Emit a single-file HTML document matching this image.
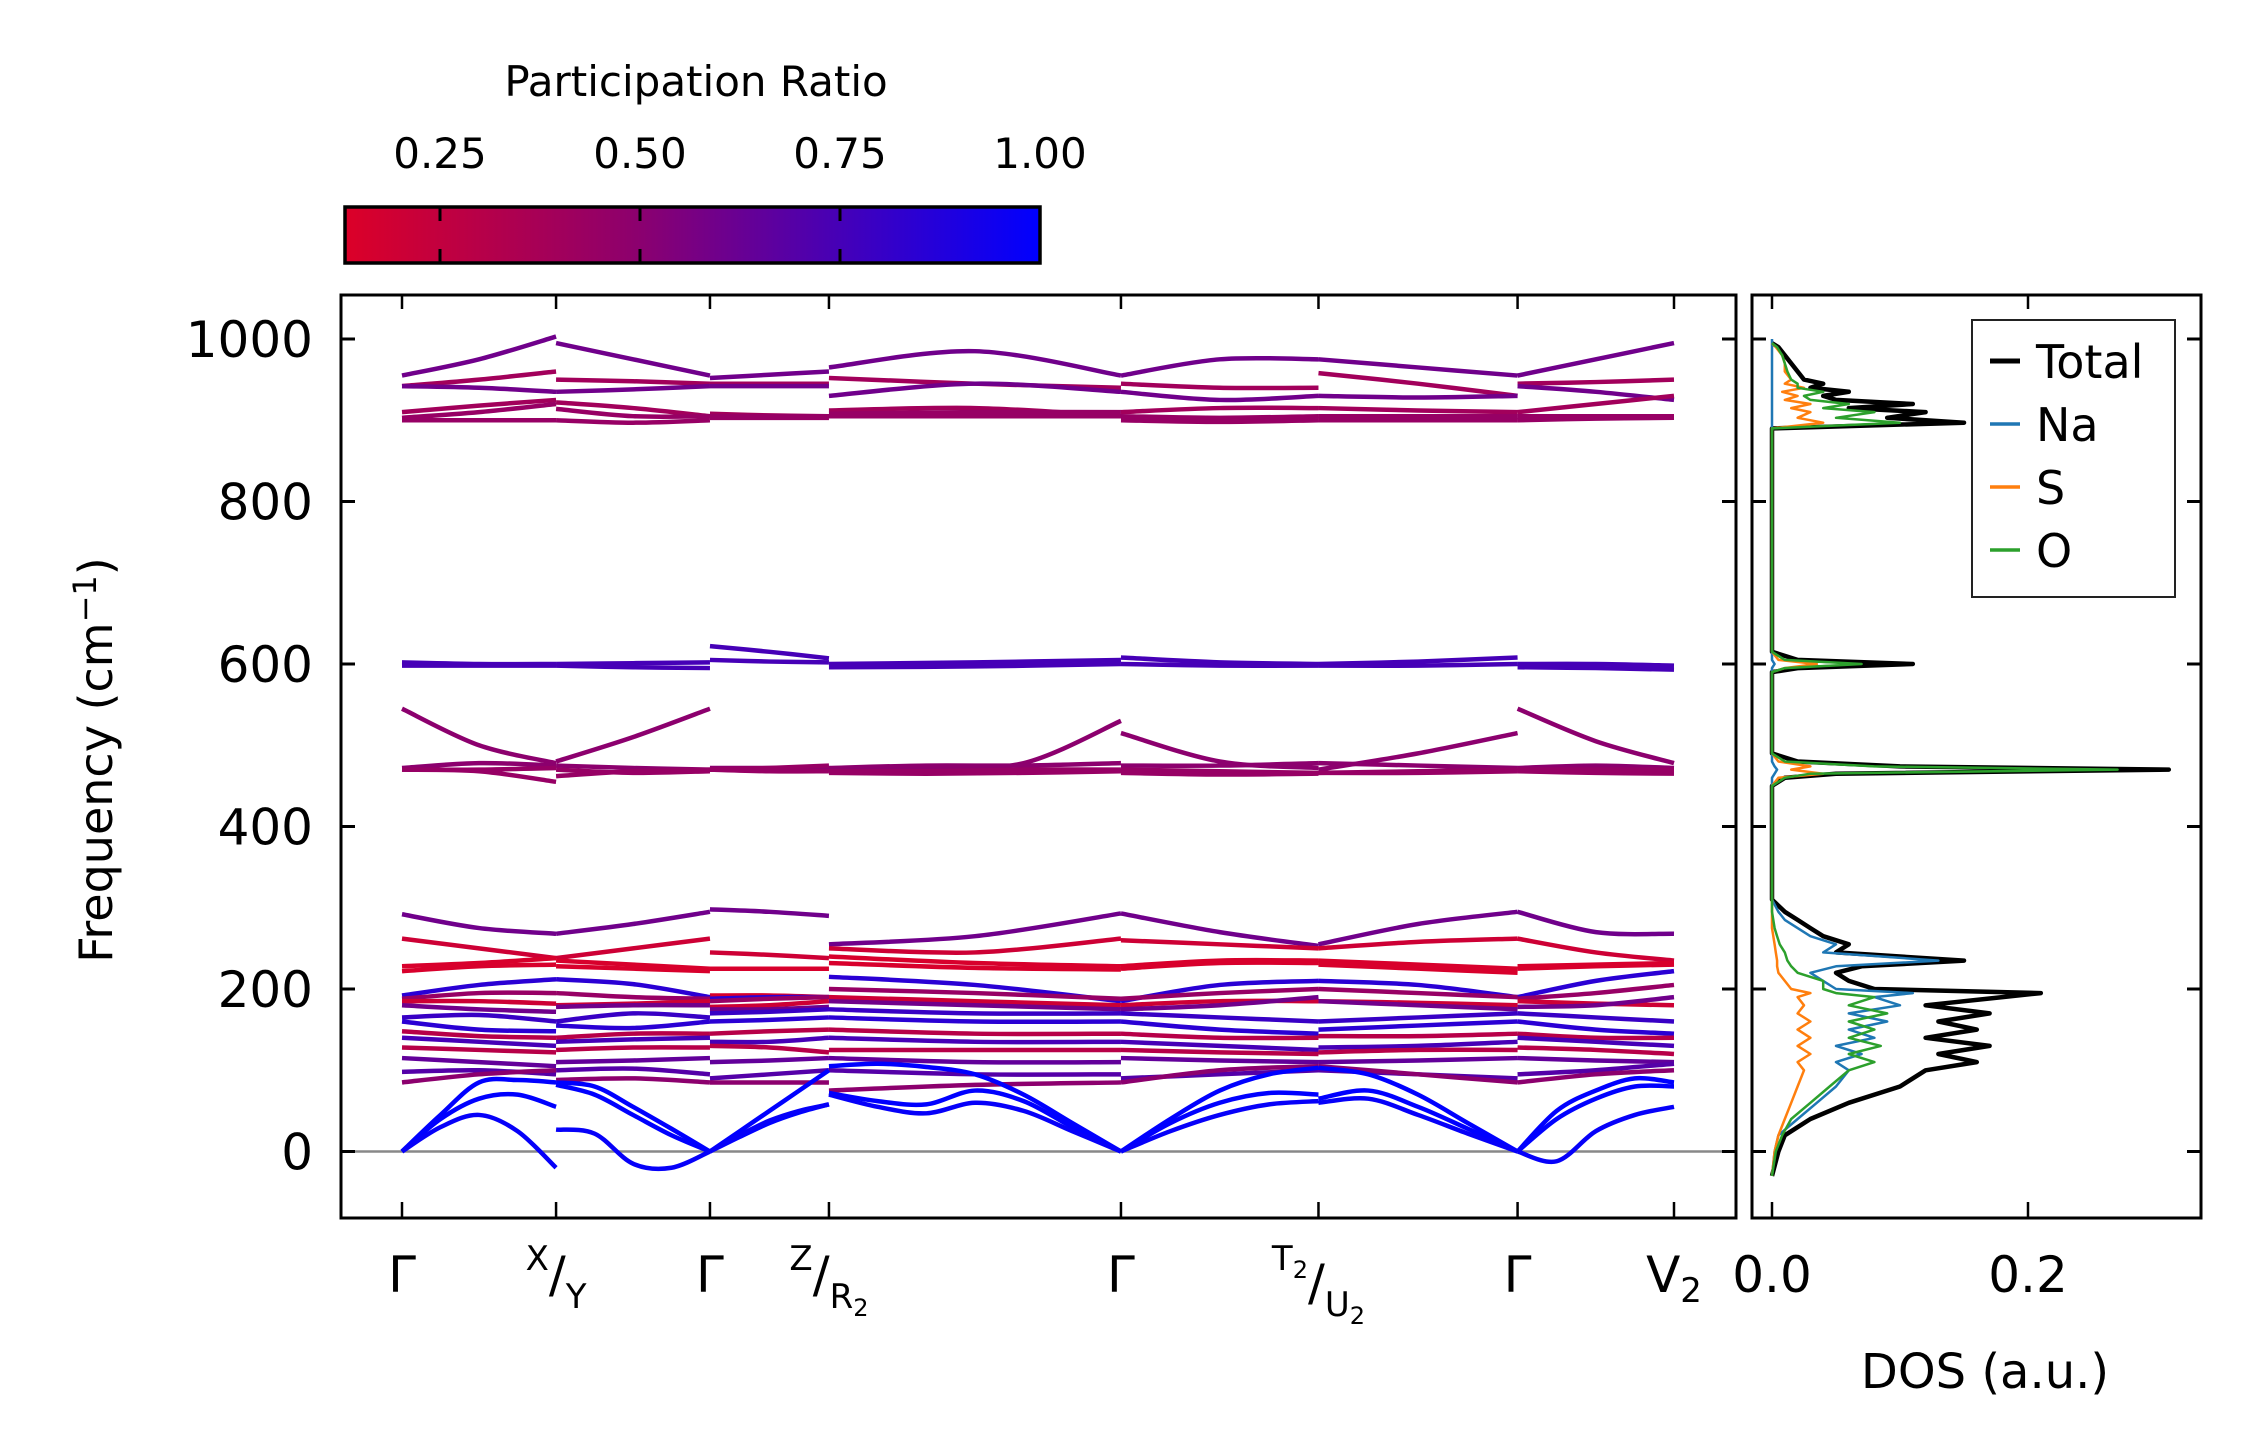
<!DOCTYPE html>
<html><head><meta charset="utf-8">
<style>
html,body{margin:0;padding:0;background:#fff;}
svg{display:block;font-family:"DejaVu Sans","Liberation Sans",sans-serif;}
</style></head>
<body>
<svg id="chart" width="2259" height="1455" viewBox="0 0 2259 1455" xmlns="http://www.w3.org/2000/svg">
  <defs>
    <linearGradient id="cmap" x1="0" x2="1" y1="0" y2="0">
      <stop offset="0" stop-color="rgb(220,0,40)"/>
      <stop offset="0.42" stop-color="rgb(140,0,110)"/>
      <stop offset="1" stop-color="rgb(0,0,255)"/>
    </linearGradient>
  </defs>
  <g id="colorbar">
    <text x="696" y="96" font-size="42" text-anchor="middle">Participation Ratio</text>
    <rect x="345" y="207" width="695" height="56" fill="url(#cmap)" stroke="#000" stroke-width="3.5"/>
  </g>
  <g id="main"></g>
  <g id="dos"></g>
  <text transform="translate(112,760) rotate(-90)" font-size="46" text-anchor="middle">Frequency (cm<tspan dy="-16" font-size="32">−1</tspan><tspan dy="16">)</tspan></text>
  <text x="1985" y="1388" font-size="48" text-anchor="middle">DOS (a.u.)</text>
</svg>
<script>
// ---------- data ----------
const qDist = [0, 0.975, 1.949, 2.702, 4.55, 5.80, 7.06, 8.05];
const qLabels = ["Γ","X|Y","Γ","Z|R2","Γ","T2|U2","Γ","V2"];
const yTicks = [0, 200, 400, 600, 800, 1000];
const cbTicks = [0.25, 0.5, 0.75, 1.0];
const cbTickLabels = ["0.25","0.50","0.75","1.00"];
// each band: 7 segments of equally spaced samples
const bandFreqs = [
 [[955,975,1003],[995,975,955],[952,956,960],[965,985,955],[955,975,975],[975,965,955],[955,975,995]],
 [[942,950,960],[950,948,945],[945,945,945],[952,945,940],[945,940,940],[958,945,930],[945,947,950]],
 [[942,940,935],[935,938,942],[942,942,942],[930,945,935],[935,925,930],[930,928,930],[942,935,925]],
 [[910,918,925],[922,915,905],[908,906,905],[912,915,905],[910,915,915],[915,912,910],[910,920,930]],
 [[903,910,920],[914,905,905],[905,905,905],[908,910,910],[905,903,905],[905,905,905],[905,905,905]],
 [[900,900,900],[900,897,900],[903,903,903],[905,905,905],[900,898,900],[900,900,900],[900,902,903]],
 [[602,600,600],[600,601,602],[622,615,607],[600,602,605],[608,602,600],[600,603,608],[600,600,598]],
 [[598,598,598],[598,596,595],[605,603,602],[596,597,600],[600,598,598],[598,598,600],[596,595,593]],
 [[545,500,478],[480,510,545],[472,472,472],[470,472,478,530],[515,480,472],[470,490,515],[545,505,478]],
 [[472,478,475],[475,472,470],[470,470,470],[472,475,475,478],[475,475,478],[478,475,472],[472,475,472]],
 [[470,468,455],[462,468,470],[470,472,475],[468,468,470,470],[470,468,466],[466,468,470],[470,470,470]],
 [[470,470,472],[470,466,468],[470,468,468],[466,465,466,468],[466,464,465],[466,466,468],[468,466,465]],
 [[292,275,268],[268,280,295],[298,295,290],[255,265,293],[293,270,253],[255,280,295],[295,270,268]],
 [[262,250,238],[238,250,262],[245,242,238],[250,245,262],[260,255,250],[250,258,262],[262,245,235]],
 [[228,232,238],[235,230,225],[225,225,225],[240,232,228],[228,235,235],[235,230,225],[228,230,232]],
 [[222,228,230],[228,225,222],[192,192,190],[232,226,224],[225,232,232],[230,225,220],[225,228,230]],
 [[192,205,212],[212,206,190],[188,190,190],[215,205,185],[185,205,210],[210,205,190],[190,210,222]],
 [[188,195,195],[195,190,188],[185,188,190],[200,195,188],[188,195,200],[200,195,190],[188,195,205]],
 [[185,185,182],[180,182,185],[178,180,185],[190,185,180],[180,185,185],[185,183,180],[185,182,180]],
 [[180,175,172],[178,180,180],[175,175,178],[185,180,175],[175,180,190],[185,180,175],[178,180,190]],
 [[165,168,160],[160,170,165],[170,172,175],[175,170,170],[170,165,160],[160,165,170],[170,165,160]],
 [[160,150,148],[155,152,160],[160,162,165],[165,160,160],[160,150,145],[150,155,160],[160,150,145]],
 [[148,142,140],[140,145,145],[145,148,150],[150,145,145],[145,140,140],[142,142,145],[145,140,140]],
 [[140,135,130],[135,138,140],[135,135,140],[140,135,135],[135,130,125],[128,130,135],[140,135,130]],
 [[128,125,122],[125,128,128],[130,128,122],[125,125,125],[125,122,120],[122,125,125],[128,125,120]],
 [[115,110,105],[110,112,115],[110,112,115],[115,110,110],[115,112,110],[110,112,115],[115,112,110]],
 [[98,100,95],[100,102,95],[90,95,100],[100,95,95],[90,95,100],[100,95,90],[95,100,108]],
 [[85,95,100],[88,90,85],[85,85,85],[75,82,85],[85,100,105],[105,95,85],[85,95,100]],
 [[0,45,85,88,85],[85,80,55,28,0],[0,25,50,75,100],[105,108,104,95,70,35,0],[0,40,75,95,103],[103,95,70,35,0],[0,50,75,90,85]],
 [[0,40,65,70,55],[82,70,45,20,0],[0,18,35,48,58],[72,62,58,75,62,30,0],[0,35,60,72,70],[65,75,55,28,0],[0,40,65,80,80]],
 [[0,30,45,25,-20],[27,22,-15,-20,0],[0,20,38,50,58],[70,55,47,60,50,25,0],[0,25,45,58,62],[60,65,45,22,0],[0,-12,25,45,55]]
];
const bandPR = [0.6,0.4,0.6,0.4,0.45,0.45,0.75,0.75,0.5,0.5,0.45,0.45,0.6,0.2,0.15,0.15,0.85,0.45,0.2,0.6,0.8,0.85,0.3,0.75,0.3,0.65,0.7,0.5,1.0,1.0,0.98];
// DOS
const dosFreq  = [-30,0,20,40,60,80,100,110,120,130,140,150,160,170,180,190,195,200,210,220,228,235,245,255,265,275,285,295,310,450,460,465,470,474,480,490,590,595,600,605,615,890,897,903,910,915,920,925,930,935,940,945,950,960,970,980,990,995];
const dosTotal = [0,0.005,0.01,0.03,0.06,0.1,0.12,0.16,0.13,0.17,0.12,0.16,0.13,0.17,0.12,0.18,0.21,0.08,0.06,0.05,0.07,0.15,0.05,0.06,0.04,0.03,0.02,0.01,0,0,0.01,0.05,0.31,0.1,0.02,0,0,0.02,0.11,0.02,0,0,0.15,0.09,0.12,0.06,0.11,0.05,0.04,0.06,0.03,0.04,0.025,0.02,0.015,0.01,0.005,0];
const dosNa    = [0,0.002,0.005,0.02,0.035,0.05,0.06,0.05,0.07,0.05,0.08,0.06,0.09,0.06,0.1,0.08,0.11,0.05,0.04,0.03,0.05,0.13,0.04,0.05,0.03,0.02,0.01,0.005,0,0,0,0.002,0.004,0.002,0,0,0,0,0.002,0,0,0,0,0,0,0,0,0,0,0,0,0,0,0,0,0,0,0];
const dosS     = [0,0.002,0.005,0.01,0.015,0.02,0.025,0.02,0.03,0.02,0.03,0.02,0.03,0.02,0.025,0.02,0.03,0.015,0.01,0.005,0.004,0.004,0.003,0.002,0.001,0,0,0,0,0,0.005,0.04,0.015,0.03,0.005,0,0,0.01,0.035,0.005,0,0,0.04,0.02,0.03,0.015,0.03,0.01,0.02,0.008,0.025,0.01,0.015,0.01,0.01,0.008,0.003,0];
const dosO     = [0,0.003,0.008,0.015,0.03,0.045,0.06,0.08,0.06,0.085,0.06,0.08,0.06,0.09,0.06,0.08,0.05,0.04,0.04,0.02,0.015,0.012,0.01,0.006,0.004,0.002,0.001,0,0,0,0.01,0.03,0.27,0.08,0.01,0,0,0.01,0.07,0.01,0,0,0.1,0.05,0.08,0.04,0.06,0.03,0.025,0.04,0.02,0.02,0.015,0.012,0.01,0.008,0.004,0];
const dosXTicks = [0, 0.2];
const dosXTickLabels = ["0.0","0.2"];
const legendNames = ["Total","Na","S","O"];
const legendColors = ["#000000","#1f77b4","#ff7f0e","#2ca02c"];

// ---------- layout ----------
const NS = "http://www.w3.org/2000/svg";
const P = {x0:341, x1:1736, y0:295, y1:1218};
const D = {x0:1752, x1:2201};
const qX0 = 402, qX1 = 1674;
const xq = d => qX0 + (d - qDist[0]) / (qDist[qDist.length-1] - qDist[0]) * (qX1 - qX0);
const yF = f => 1151.5 - f * 0.8125;
const xD = v => 1772 + v * 1280;
const cbX = v => 1040 - (1 - v) * 800;

function mk(tag, attrs, parent){
  const e = document.createElementNS(NS, tag);
  for (const k in attrs) e.setAttribute(k, attrs[k]);
  parent.appendChild(e);
  return e;
}
function prColor(p){
  const stops=[[0.131,[220,0,40]],[0.5,[140,0,110]],[1,[0,0,255]]];
  p=Math.max(0.131,Math.min(1,p));
  for(let i=0;i<stops.length-1;i++){
    const [a,ca]=stops[i],[b,cb]=stops[i+1];
    if(p<=b){const t=(p-a)/(b-a);return `rgb(${ca.map((c,j)=>Math.round(c+(cb[j]-c)*t)).join(',')})`;}
  }
  return 'rgb(0,0,255)';
}
function crPath(pts){
  let d=`M${pts[0][0]},${pts[0][1]}`;
  for(let i=0;i<pts.length-1;i++){
    const p0=pts[Math.max(0,i-1)],p1=pts[i],p2=pts[i+1],p3=pts[Math.min(pts.length-1,i+2)];
    const c1=[p1[0]+(p2[0]-p0[0])/6,p1[1]+(p2[1]-p0[1])/6];
    const c2=[p2[0]-(p3[0]-p1[0])/6,p2[1]-(p3[1]-p1[1])/6];
    d+=` C${c1[0]},${c1[1]} ${c2[0]},${c2[1]} ${p2[0]},${p2[1]}`;
  }
  return d;
}
const svg=document.getElementById('chart');

// colorbar ticks & labels
const cb=document.getElementById('colorbar');
cbTicks.forEach((v,i)=>{
  if(v<1){
    const t1=mk('line',{x1:cbX(v),x2:cbX(v),y1:207,y2:221,stroke:'#000','stroke-width':3},cb);
    
    
    const t2=mk('line',{x1:cbX(v),x2:cbX(v),y1:249,y2:263,stroke:'#000','stroke-width':3},cb);
    
    
  }
  const tl=mk('text',{x:cbX(v),y:168,'font-size':42,'text-anchor':'middle'},cb);
  tl.textContent=cbTickLabels[i];
  
  
});

// main panel
const main=document.getElementById('main');
const clip=mk('clipPath',{id:'mclip'},svg.querySelector('defs'));
mk('rect',{x:P.x0,y:P.y0,width:P.x1-P.x0,height:P.y1-P.y0},clip);
const zl=mk('line',{x1:P.x0,x2:P.x1,y1:yF(0),y2:yF(0),stroke:'#888','stroke-width':2.5},main);


const bandsG=mk('g',{'clip-path':'url(#mclip)'},main);


bandFreqs.forEach((band,bi)=>{
  band.forEach((seg,si)=>{
    const a=qDist[si],b=qDist[si+1];
    const pts=seg.map((f,k)=>[xq(a+(b-a)*k/(seg.length-1)),yF(f)]);
    const p=mk('path',{d:crPath(pts),fill:'none',stroke:prColor(bandPR[bi]),'stroke-width':4.5},bandsG);
    
    
  });
});
const fr=mk('rect',{x:P.x0,y:P.y0,width:P.x1-P.x0,height:P.y1-P.y0,fill:'none',stroke:'#000','stroke-width':3},main);


yTicks.forEach(v=>{
  const y=yF(v);
  const a=mk('line',{x1:P.x0,x2:P.x0+14,y1:y,y2:y,stroke:'#000','stroke-width':3},main);
  
  
  const b=mk('line',{x1:P.x1-14,x2:P.x1,y1:y,y2:y,stroke:'#000','stroke-width':3},main);
  
  
  const t=mk('text',{x:P.x0-28,y:y+18,'font-size':50,'text-anchor':'end'},main);
  t.textContent=String(v);
  
  
});
qDist.forEach((d,i)=>{
  const x=xq(d);
  const a=mk('line',{x1:x,x2:x,y1:P.y1-16,y2:P.y1,stroke:'#000','stroke-width':2.5},main);
  
  
  const b=mk('line',{x1:x,x2:x,y1:P.y0,y2:P.y0+14,stroke:'#000','stroke-width':2.5},main);
  
  
  const lab=qLabels[i];
  const t=mk('text',{x:x,y:1292,'font-size':50,'text-anchor':'middle'},main);
  
  
  if(lab.includes('|')){
    const [l,r]=lab.split('|');
    const sup=s=>s.length>1?`${s[0]}<tspan font-size="24" dy="8">${s.slice(1)}</tspan><tspan dy="-8"></tspan>`:s;
    const sub=s=>s.length>1?`${s[0]}<tspan font-size="24" dy="8">${s.slice(1)}</tspan>`:s;
    t.innerHTML=`<tspan font-size="34" dy="-22">${sup(l)}</tspan><tspan dy="22">/</tspan><tspan font-size="34" dy="16">${sub(r)}</tspan>`;
    t.setAttribute('text-anchor','middle');
  } else if(lab.length>1){
    t.innerHTML=`${lab[0]}<tspan font-size="34" dy="10">${lab.slice(1)}</tspan>`;
  } else t.textContent=lab;
});

// DOS panel
const dos=document.getElementById('dos');
const dclip=mk('clipPath',{id:'dclip'},svg.querySelector('defs'));
mk('rect',{x:D.x0,y:P.y0,width:D.x1-D.x0,height:P.y1-P.y0},dclip);
const dg=mk('g',{'clip-path':'url(#dclip)'},dos);
const series=[[dosTotal,4.5,'dos-total-line'],[dosNa,2.5,'dos-na-line'],[dosS,2.5,'dos-s-line'],[dosO,2.5,'dos-o-line']];
series.forEach((s,i)=>{
  let vals=s[0];
  let pts=dosFreq.map((f,k)=>`${xD(vals[k]).toFixed(1)},${yF(f).toFixed(1)}`);
  if(i===1) pts.push(`${xD(0)},${yF(1000)}`);
  const pl=mk('polyline',{points:pts.join(' '),fill:'none',stroke:legendColors[i],'stroke-width':s[1],'stroke-linejoin':'round'},dg);
  
  
});
const dfr=mk('rect',{x:D.x0,y:P.y0,width:D.x1-D.x0,height:P.y1-P.y0,fill:'none',stroke:'#000','stroke-width':3},dos);


yTicks.forEach(v=>{
  const y=yF(v);
  const a=mk('line',{x1:D.x0,x2:D.x0+14,y1:y,y2:y,stroke:'#000','stroke-width':3},dos);
  
  
  const b=mk('line',{x1:D.x1-14,x2:D.x1,y1:y,y2:y,stroke:'#000','stroke-width':3},dos);
  
  
});
dosXTicks.forEach((v,i)=>{
  const x=xD(v);
  const a=mk('line',{x1:x,x2:x,y1:P.y1-16,y2:P.y1,stroke:'#000','stroke-width':2.5},dos);
  
  
  const b=mk('line',{x1:x,x2:x,y1:P.y0,y2:P.y0+14,stroke:'#000','stroke-width':2.5},dos);
  
  
  const t=mk('text',{x:x,y:1292,'font-size':50,'text-anchor':'middle'},dos);
  t.textContent=dosXTickLabels[i];
  
  
});
// legend
const lg=mk('g',{},dos);


const lb=mk('rect',{x:1972,y:320,width:203,height:277,fill:'#fff',stroke:'#222','stroke-width':2},lg);


legendNames.forEach((n,i)=>{
  const y=361+i*63;
  const l=mk('line',{x1:1990,x2:2020,y1:y,y2:y,stroke:legendColors[i],'stroke-width':i===0?5:3.5},lg);
  
  
  const t=mk('text',{x:2036,y:y+17,'font-size':46},lg);
  t.textContent=n;
  
  
});
</script>
</body></html>
